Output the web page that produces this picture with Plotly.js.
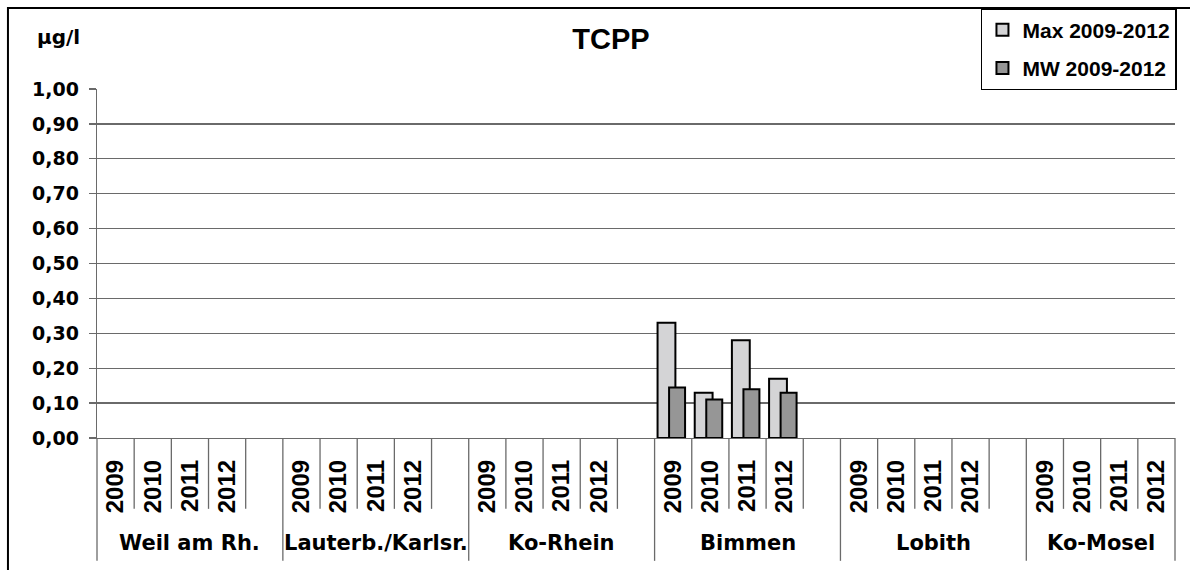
<!DOCTYPE html>
<html>
<head>
<meta charset="utf-8">
<script src="https://cdn.plot.ly/plotly-3.0.1.min.js"></script>
<style>html,body{margin:0;padding:0;background:#fff;}#chart{width:1190px;height:570px;}</style>
</head>
<body>
<div id="chart"></div>
<script>
// ---- data ----
const stations = ['Weil am Rh.', 'Lauterb./Karlsr.', 'Ko-Rhein', 'Bimmen', 'Lobith', 'Ko-Mosel'];
const years = ['2009', '2010', '2011', '2012'];
// values per station, per year (µg/l); null = no value
const maxWeil = [null, null, null, null];
const maxLauterb = [null, null, null, null];
const maxKoRhein = [null, null, null, null];
const maxBimmen = [0.33, 0.13, 0.28, 0.17];
const maxLobith = [null, null, null, null];
const maxKoMosel = [null, null, null, null];
const mwWeil = [null, null, null, null];
const mwLauterb = [null, null, null, null];
const mwKoRhein = [null, null, null, null];
const mwBimmen = [0.145, 0.11, 0.14, 0.13];
const mwLobith = [null, null, null, null];
const mwKoMosel = [null, null, null, null];
const seriesNames = ['Max 2009-2012', 'MW 2009-2012'];
const yTicks = [0, 0.1, 0.2, 0.3, 0.4, 0.5, 0.6, 0.7, 0.8, 0.9, 1.0];

const maxSeries = [maxWeil, maxLauterb, maxKoRhein, maxBimmen, maxLobith, maxKoMosel];
const mwSeries = [mwWeil, mwLauterb, mwKoRhein, mwBimmen, mwLobith, mwKoMosel];

// ---- build positions: each station = 4 years + 1 blank slot (last has no blank) ----
const slotsPerGroup = years.length + 1;
const xs = [], tickText = [], maxVals = [], mwVals = [];
stations.forEach((s, si) => {
  years.forEach((y, yi) => {
    xs.push(si * slotsPerGroup + yi);
    tickText.push(y);
    maxVals.push(maxSeries[si][yi]);
    mwVals.push(mwSeries[si][yi]);
  });
});
const nSlots = (stations.length - 1) * slotsPerGroup + years.length;
const xr = [-0.5, nSlots - 0.5];
const toPaperX = v => (v - xr[0]) / (xr[1] - xr[0]);

const lineCol = '#6a6a6a';
const shapes = [];
// separators below axis
for (let i = 0; i <= nSlots; i++) {
  const isGroup = (i % slotsPerGroup === 0) || i === nSlots;
  shapes.push({
    type: 'line', xref: 'paper', yref: 'paper',
    x0: toPaperX(i - 0.5), x1: toPaperX(i - 0.5),
    y0: 0, y1: isGroup ? -0.352 : -0.203,
    line: {color: lineCol, width: 1.3}
  });
}
// outer chart border
shapes.push({
  type: 'rect', xref: 'paper', yref: 'paper',
  x0: -0.0826, x1: 1.2, y0: -0.6, y1: 1.232,
  line: {color: '#000', width: 2}, fillcolor: 'rgba(0,0,0,0)'
});

const annotations = stations.map((s, si) => {
  const start = si * slotsPerGroup - 0.5;
  const end = Math.min(start + slotsPerGroup, nSlots - 0.5);
  return {
    text: s, xref: 'paper', yref: 'paper',
    x: toPaperX((start + end) / 2), y: -0.301,
    xanchor: 'center', yanchor: 'middle', showarrow: false,
    font: {family: 'DejaVu Sans', size: 21, weight: 'bold', color: '#000'}
  };
});
annotations.push({
  text: 'µg/l', xref: 'paper', yref: 'paper', x: -0.036, y: 1.149,
  xanchor: 'center', yanchor: 'middle', showarrow: false,
  font: {family: 'DejaVu Sans', size: 20, weight: 'bold', color: '#000'}
});

const traces = [
  {
    type: 'bar', name: seriesNames[0], x: xs, y: maxVals,
    width: 0.48, offset: -0.42, legendgroup: 'a',
    marker: {color: '#d4d4d6', line: {color: '#000', width: 2}},
    hoverinfo: 'skip'
  },
  {
    type: 'bar', name: seriesNames[1], x: xs, y: mwVals,
    width: 0.43, offset: -0.11, legendgroup: 'b',
    marker: {color: '#969696', line: {color: '#000', width: 2}},
    hoverinfo: 'skip'
  }
];

const layout = {
  width: 1190, height: 570,
  margin: {l: 97, r: 15, t: 89, b: 132, pad: 0, autoexpand: false},
  paper_bgcolor: '#fff', plot_bgcolor: '#fff',
  separators: ',.',
  barmode: 'overlay',
  title: {
    text: 'TCPP', x: 0.5134, xanchor: 'center', y: 0.932, yanchor: 'middle',
    font: {family: 'Liberation Sans', size: 29, weight: 'bold', color: '#000'}
  },
  xaxis: {
    range: xr, tickvals: xs, ticktext: tickText, tickangle: -90,
    ticks: '', ticklabelstandoff: 11,
    tickfont: {family: 'Liberation Sans', size: 24, weight: 'bold', color: '#000'},
    showgrid: false, zeroline: false,
    showline: true, linecolor: lineCol, linewidth: 1.3, fixedrange: true
  },
  yaxis: {
    range: [0, 1], tickvals: yTicks, tickformat: '.2f',
    ticks: 'outside', ticklen: 7, tickcolor: lineCol, tickwidth: 1.3,
    ticklabelstandoff: 6,
    tickfont: {family: 'DejaVu Sans', size: 19, weight: 'bold', color: '#000'},
    showgrid: true, gridcolor: lineCol, gridwidth: 1.3,
    zeroline: false, showline: true, linecolor: lineCol, linewidth: 1.3,
    fixedrange: true
  },
  showlegend: true,
  legend: {
    x: 0.82, xanchor: 'left', y: 1.232, yanchor: 'top',
    bgcolor: '#fff', bordercolor: '#000', borderwidth: 1.5,
    font: {family: 'Liberation Sans', size: 21, weight: 'bold', color: '#000'},
    tracegroupgap: 8, itemwidth: 30, traceorder: 'grouped'
  },
  shapes: shapes,
  annotations: annotations
};

Plotly.newPlot('chart', traces, layout, {displayModeBar: false, staticPlot: true});
</script>
</body>
</html>
